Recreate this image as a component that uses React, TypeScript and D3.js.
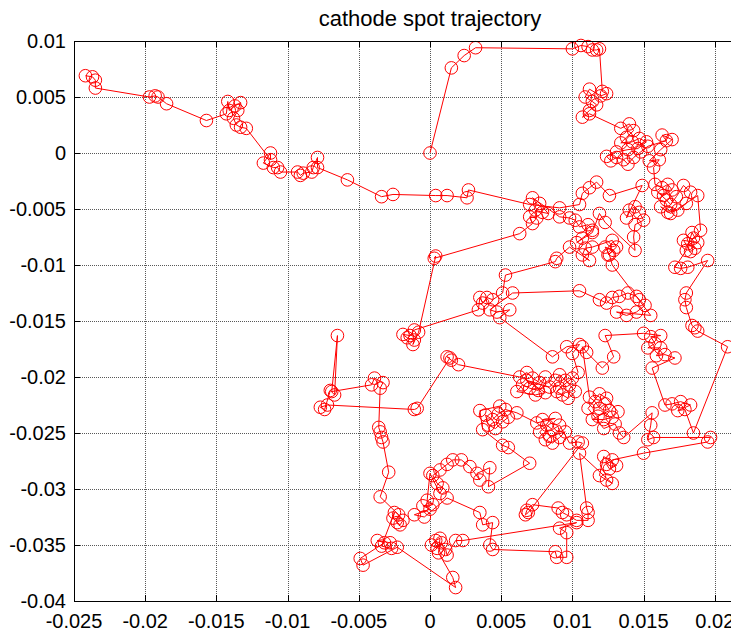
import React from "react";
import * as d3 from "d3";

type Pt = [number, number];

// Trajectory, split into legs (in plotting order)
const launchLeg: Pt[] = [
  [0, 0], [0.0015, 0.0076], [0.0024, 0.0087], [0.0032, 0.0094], [0.01, 0.0093], [0.0106, 0.0096],
  [0.0111, 0.0095], [0.0114, 0.0092], [0.0117, 0.0092], [0.0119, 0.0093], [0.0121, 0.0055], [0.0124, 0.0053],
  [0.012, 0.0051], [0.0112, 0.0057], [0.0109, 0.005], [0.0114, 0.0046], [0.0117, 0.0043], [0.0112, 0.0038],
  [0.0107, 0.0032], [0.0112, 0.0035],
];

const upperRightLeg: Pt[] = [
  [0.0134, 0.0022], [0.014, 0.0026], [0.0143, 0.002], [0.0138, 0.0014], [0.0134, 0.0009], [0.0142, 0.001],
  [0.0147, 0.0013], [0.0152, 0.001], [0.0146, 0.0004], [0.0139, 0.0003], [0.0131, 0.0001], [0.0124, -0.0003],
  [0.0127, -0.0007], [0.0131, -0.0004], [0.0136, -0.0006], [0.0139, -0.001], [0.0143, -0.0004], [0.0148, 0.0001],
  [0.0153, 0.0006], [0.0166, 0.0011], [0.0163, 0.0016], [0.017, 0.0012], [0.0162, 0.0003], [0.0154, -0.0007],
  [0.0161, -0.0006], [0.0157, -0.0013],
];

const rightEdgeLeg: Pt[] = [
  [0.0158, -0.0028], [0.0163, -0.0031], [0.0167, -0.0028], [0.017, -0.0033], [0.0164, -0.0038], [0.016, -0.0035],
  [0.0166, -0.0042], [0.0169, -0.0046], [0.0173, -0.0039], [0.0178, -0.0029], [0.0183, -0.0035], [0.018, -0.0045],
  [0.0174, -0.0051], [0.0167, -0.0053], [0.0162, -0.0048], [0.0169, -0.0054], [0.0188, -0.0038], [0.019, -0.0069],
  [0.0185, -0.0076], [0.0181, -0.0081], [0.0186, -0.0085], [0.0183, -0.0088], [0.0178, -0.0078], [0.0188, -0.008],
  [0.0184, -0.0071], [0.018, -0.0087], [0.0172, -0.0102], [0.0176, -0.0103], [0.0181, -0.0102], [0.0195, -0.0096],
  [0.018, -0.0125], [0.0179, -0.0131], [0.018, -0.0138], [0.0184, -0.0154], [0.0186, -0.0156], [0.0188, -0.0159],
  [0.0209, -0.0173], [0.0185, -0.025],
];

const lowerRightLeg: Pt[] = [
  [0.0179, -0.0229], [0.0174, -0.023], [0.0183, -0.0225], [0.0176, -0.0222], [0.017, -0.0224], [0.0165, -0.0225],
  [0.0156, -0.0192], [0.0172, -0.0183], [0.0165, -0.018], [0.0159, -0.0181], [0.0162, -0.0174], [0.0153, -0.0174],
  [0.0158, -0.017], [0.0155, -0.0164], [0.0162, -0.0163], [0.015, -0.0161], [0.0123, -0.0163], [0.0129, -0.0182],
  [0.0121, -0.0192], [0.011, -0.0178], [0.0107, -0.0173], [0.0112, -0.0218], [0.0116, -0.0222], [0.0119, -0.0228],
  [0.0123, -0.0224], [0.0126, -0.023], [0.0118, -0.0235], [0.0114, -0.0238], [0.0122, -0.0238], [0.0128, -0.0236],
  [0.0132, -0.0231], [0.0124, -0.0219], [0.0119, -0.0215], [0.0111, -0.0228], [0.0122, -0.0246], [0.013, -0.0242],
  [0.0133, -0.025], [0.0136, -0.0254], [0.0156, -0.0232], [0.0155, -0.0243], [0.0153, -0.0256], [0.0157, -0.0254],
  [0.0197, -0.0254], [0.0195, -0.0258], [0.015, -0.0268], [0.0128, -0.0274], [0.0124, -0.0278], [0.0126, -0.0282],
  [0.0131, -0.0279], [0.0122, -0.0271], [0.0119, -0.0288], [0.0124, -0.0292], [0.0128, -0.0295], [0.0105, -0.0268],
  [0.011, -0.0317], [0.0111, -0.0321], [0.0111, -0.0328], [0.0103, -0.0328], [0.0096, -0.0323], [0.0093, -0.0321],
  [0.009, -0.0317], [0.0072, -0.0314], [0.0068, -0.0319], [0.0067, -0.0323], [0.0069, -0.0321], [0.0107, -0.0259],
  [0.0104, -0.0258], [0.0098, -0.0259],
];

const centralLeg: Pt[] = [
  [0.0091, -0.0243], [0.0086, -0.0247], [0.0082, -0.0243], [0.0077, -0.0249], [0.0081, -0.0256], [0.0086, -0.0259],
  [0.0091, -0.0254], [0.0095, -0.0249], [0.0084, -0.0253], [0.0079, -0.0238], [0.0088, -0.0237], [0.0075, -0.0241],
  [0.0061, -0.0232], [0.0053, -0.0229], [0.0048, -0.0233], [0.0044, -0.0238], [0.0039, -0.0234], [0.0041, -0.0243],
  [0.0046, -0.0246], [0.0051, -0.024], [0.0055, -0.0236], [0.0049, -0.0226], [0.0035, -0.023], [0.0037, -0.0247],
  [0.0051, -0.0261], [0.0055, -0.0263], [0.007, -0.0277], [0.0041, -0.0298], [0.0042, -0.0281], [0.0033, -0.0286],
  [0.0035, -0.0292], [0.0028, -0.028], [0.0022, -0.0274], [0.0016, -0.0274], [0.0012, -0.0278], [0.0007, -0.0283],
  [0.0002, -0.0288], [0.0005, -0.0295], [0.0009, -0.0299], [0.0007, -0.0304], [0, -0.0286], [-0.0002, -0.031],
  [0.0002, -0.0314], [-0.0005, -0.0315], [0, -0.0318], [-0.0011, -0.0323], [-0.0004, -0.0325], [0.0012, -0.0308],
  [0.0035, -0.0321], [0.0037, -0.0332], [0.0044, -0.033], [0.0042, -0.035], [0.0044, -0.0354], [0.0088, -0.0356],
  [0.0089, -0.0361], [0.0096, -0.0361], [0.0096, -0.0339], [0.0091, -0.0335], [0.0103, -0.033], [0.0023, -0.0346],
  [0.0018, -0.0346], [0.0012, -0.0359], [0.0011, -0.0354], [0.0008, -0.0348], [0.0005, -0.0353], [0.0001, -0.035],
  [0.0004, -0.0346], [0.0007, -0.0344], [0.0006, -0.0357], [0.0016, -0.0379], [0.0018, -0.0388], [-0.0023, -0.0352],
  [-0.0047, -0.0368], [-0.0049, -0.0362], [-0.0032, -0.0348], [-0.0037, -0.0346], [-0.0028, -0.0348], [-0.0027, -0.0353],
  [-0.0034, -0.0351], [-0.0025, -0.0321], [-0.0026, -0.0326], [-0.0023, -0.033], [-0.0021, -0.0332], [-0.0019, -0.0328],
  [-0.0022, -0.0323], [-0.0035, -0.0307], [-0.0029, -0.0285], [-0.0033, -0.0258], [-0.0034, -0.0254], [-0.0035, -0.0249],
  [-0.0036, -0.0245], [-0.0035, -0.021], [-0.0033, -0.0205], [-0.0039, -0.0201], [-0.0041, -0.0207], [-0.0069, -0.0213],
  [-0.0065, -0.0163], [-0.0067, -0.0216], [-0.007, -0.0212], [-0.0074, -0.0229], [-0.0077, -0.0227], [-0.0072, -0.0225],
  [-0.0011, -0.0229], [-0.0009, -0.0228], [0.0014, -0.0183], [0.0012, -0.0182], [0.0015, -0.0185], [0.002, -0.0189],
];

const middleLeg: Pt[] = [
  [0.0063, -0.02], [0.0068, -0.0196], [0.0072, -0.0201], [0.0077, -0.0205], [0.0081, -0.02], [0.0076, -0.0212],
  [0.007, -0.021], [0.0065, -0.0207], [0.0061, -0.0213], [0.0074, -0.0216], [0.0081, -0.0214], [0.0068, -0.0203],
  [0.0084, -0.0209], [0.0088, -0.0203], [0.0091, -0.0198], [0.0095, -0.0203], [0.0098, -0.0207], [0.0102, -0.0213],
  [0.0097, -0.0219], [0.0093, -0.0216], [0.0089, -0.0213], [0.0091, -0.021], [0.01, -0.0201], [0.0104, -0.0196],
  [0.01, -0.0179], [0.0105, -0.0171], [0.0096, -0.0173], [0.0086, -0.0182], [0.0049, -0.0147], [0.0056, -0.014],
  [0.0047, -0.0142], [0.0042, -0.014], [0.0058, -0.0125], [0.0105, -0.0123], [0.0119, -0.0131], [0.0124, -0.0134],
  [0.0128, -0.0129], [0.0133, -0.0128], [0.0139, -0.0125], [0.0145, -0.0128], [0.0147, -0.0131], [0.0151, -0.0136],
  [0.0145, -0.0142], [0.0138, -0.0145], [0.0131, -0.0142], [0.0155, -0.0145], [0.0128, -0.01], [0.0126, -0.0091],
  [0.0123, -0.0084], [0.0129, -0.0087], [0.0125, -0.0091], [0.0131, -0.0084], [0.0128, -0.0078], [0.0114, -0.0084],
  [0.0109, -0.0085], [0.0107, -0.0091], [0.0112, -0.0096], [0.0098, -0.0084], [0.0089, -0.0094], [0.0088, -0.0097],
  [0.0053, -0.0109], [0.0051, -0.0125], [0.0044, -0.0131], [0.004, -0.0129], [0.0037, -0.0134], [0.0035, -0.0129],
  [0.0034, -0.014], [-0.0011, -0.0158], [-0.0014, -0.0163], [-0.0019, -0.0162], [-0.0016, -0.0165], [-0.0011, -0.0167],
  [-0.0012, -0.0171], [-0.0008, -0.016], [0.0004, -0.0092], [0.0003, -0.0094], [0.0063, -0.0072],
];

const returnLeg: Pt[] = [
  [0.0072, -0.0063], [0.007, -0.0057], [0.0075, -0.0058], [0.0074, -0.0051], [0.0079, -0.0053], [0.0083, -0.0054],
  [0.0077, -0.0045], [0.0072, -0.004], [0.0091, -0.0057], [0.0098, -0.0058], [0.0102, -0.006], [0.0105, -0.0066],
  [0.0111, -0.0064], [0.0114, -0.0069], [0.0107, -0.0076], [0.0103, -0.008], [0.0114, -0.0071], [0.0119, -0.0054],
  [0.0123, -0.0062], [0.0144, -0.0087], [0.0143, -0.0075], [0.0144, -0.0064], [0.015, -0.006], [0.0147, -0.0053],
  [0.0144, -0.0048], [0.014, -0.0051], [0.0138, -0.0058], [0.0149, -0.0029], [0.0126, -0.0038], [0.0117, -0.0026],
  [0.0112, -0.0031], [0.0107, -0.0036], [0.0105, -0.0046], [0.0091, -0.0049], [0.007, -0.0046],
];

const leftArmLeg: Pt[] = [
  [0.0027, -0.0033], [0.0026, -0.004], [0.0012, -0.0038], [0.0004, -0.0038], [-0.0026, -0.0037], [-0.0034, -0.0039],
  [-0.0058, -0.0024], [-0.0079, -0.0013], [-0.0079, -0.0004], [-0.0082, -0.0013], [-0.0083, -0.0017], [-0.0089, -0.0018],
  [-0.0091, -0.002], [-0.0093, -0.0017], [-0.0105, -0.0017], [-0.0107, -0.0013], [-0.011, -0.0013], [-0.0117, -0.0009],
  [-0.0112, 0], [-0.0112, -0.0006], [-0.0129, 0.0022], [-0.0133, 0.0023], [-0.0136, 0.0025], [-0.0138, 0.0031],
  [-0.0135, 0.0038], [-0.0133, 0.0045], [-0.0137, 0.0042], [-0.0141, 0.0038], [-0.0142, 0.0046], [-0.0143, 0.0035],
  [-0.0157, 0.0029], [-0.0185, 0.0044], [-0.0191, 0.005], [-0.0193, 0.0051], [-0.0197, 0.005], [-0.0235, 0.0058],
  [-0.0235, 0.0065], [-0.0237, 0.0068], [-0.0242, 0.0069],
];

const xTickValues = [-0.025, -0.02, -0.015, -0.01, -0.005, 0, 0.005, 0.01, 0.015, 0.02, 0.025];
const xTickLabels = ["-0.025", "-0.02", "-0.015", "-0.01", "-0.005", "0", "0.005", "0.01", "0.015", "0.02", "0.025"];
const yTickValues = [0.01, 0.005, 0, -0.005, -0.01, -0.015, -0.02, -0.025, -0.03, -0.035, -0.04];
const yTickLabels = ["0.01", "0.005", "0", "-0.005", "-0.01", "-0.015", "-0.02", "-0.025", "-0.03", "-0.035", "-0.04"];
const titleText = "cathode spot trajectory";

export default function App() {
  const width = 731;
  const height = 631;
  const left = 74;
  const right = 786;
  const top = 41;
  const bottom = 601;
  const x = d3.scaleLinear().domain([-0.025, 0.025]).range([left, right]);
  const y = d3.scaleLinear().domain([-0.04, 0.01]).range([bottom, top]);
  const pts: Pt[] = [
    ...launchLeg, ...upperRightLeg, ...rightEdgeLeg, ...lowerRightLeg,
    ...centralLeg, ...middleLeg, ...returnLeg, ...leftArmLeg,
  ];
  const lineGen = d3.line<Pt>().x((d) => x(d[0])).y((d) => y(d[1]));
  const font = "'Liberation Sans', Arial, Helvetica, sans-serif";
  const px = (v: number) => Math.round(v) + 0.5;
  const visibleX = xTickValues.map((v, i) => ({ v, label: xTickLabels[i] })).filter((t) => x(t.v) < width);

  return (
    <svg
      width={width}
      height={height}
      style={{ position: "absolute", left: 0, top: 0, background: "#fff" }}
    >
      <rect x={0} y={0} width={width} height={height} fill="#fff" />
      <g stroke="#000" strokeWidth={1} strokeDasharray="1,1" opacity={0.65}>
        {xTickValues.slice(1, -1).map((v) => (
          <line key={"gx" + v} x1={px(x(v))} x2={px(x(v))} y1={top} y2={bottom} />
        ))}
        {yTickValues.slice(1, -1).map((v) => (
          <line key={"gy" + v} x1={left} x2={right} y1={px(y(v))} y2={px(y(v))} />
        ))}
      </g>
      <path d={lineGen(pts) || ""} fill="none" stroke="#ff0000" strokeWidth={1} />
      {pts.map((d, i) => (
        <circle key={i} cx={x(d[0])} cy={y(d[1])} r={6.3} fill="none" stroke="#ff0000" strokeWidth={1} />
      ))}
      <rect
        x={left + 0.5}
        y={top + 0.5}
        width={right - left}
        height={bottom - top}
        fill="none"
        stroke="#000"
        strokeWidth={1}
      />
      <g stroke="#000" strokeWidth={1}>
        {xTickValues.map((v) => (
          <g key={"tx" + v}>
            <line x1={px(x(v))} x2={px(x(v))} y1={top} y2={top + 6} />
            <line x1={px(x(v))} x2={px(x(v))} y1={bottom} y2={bottom - 6} />
          </g>
        ))}
        {yTickValues.map((v) => (
          <line key={"ty" + v} x1={left} x2={left + 6} y1={px(y(v))} y2={px(y(v))} />
        ))}
      </g>
      <g fontFamily={font} fontSize={20} fill="#000">
        {visibleX.map((t) => (
          <text key={"lx" + t.v} x={x(t.v)} y={628} textAnchor="middle">
            {t.label}
          </text>
        ))}
        {yTickValues.map((v, i) => (
          <text key={"ly" + v} x={66} y={y(v) + 7} textAnchor="end">
            {yTickLabels[i]}
          </text>
        ))}
      </g>
      <text x={(left + right) / 2} y={26} textAnchor="middle" fontFamily={font} fontSize={22} fill="#000">
        {titleText}
      </text>
    </svg>
  );
}
